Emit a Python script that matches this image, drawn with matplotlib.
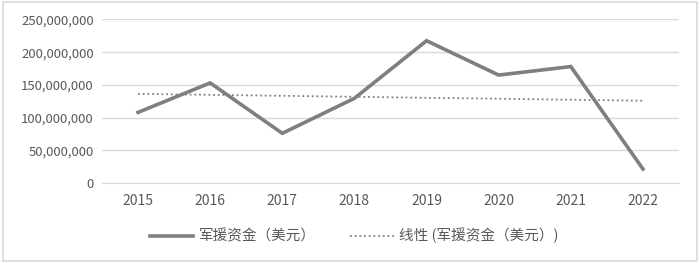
import matplotlib
matplotlib.use("Agg")
import matplotlib.pyplot as plt
import numpy as np
from matplotlib.patches import Rectangle

plt.rcParams['font.family'] = ['Noto Sans CJK SC', 'DejaVu Sans']

years = ['2015', '2016', '2017', '2018', '2019', '2020', '2021', '2022']
aid = [108e6, 153e6, 76e6, 129.5e6, 217.5e6, 165e6, 178e6, 21.5e6]
series_label = '军援资金（美元）'
trend_label = '线性 (军援资金（美元）)'
yticks = [0, 50e6, 100e6, 150e6, 200e6, 250e6]

fig = plt.figure(figsize=(7, 2.63), dpi=100)
ax = fig.add_axes([0.1457, 0.304, 0.8243, 0.622])

x = np.arange(len(years))
coef = np.polyfit(x, aid, 1)
trend = np.polyval(coef, x)

ax.plot(x, aid, color='#7f7f7f', lw=2.6, solid_joinstyle='miter', label=series_label, zorder=3)
ax.plot(x, trend, color='#7f7f7f', lw=1.3, ls=(0, (1, 1.6)), label=trend_label, zorder=2)

ax.set_xlim(-0.5, len(years) - 0.5)
ax.set_ylim(0, 250e6)
ax.set_yticks(yticks)
ax.set_yticklabels([f'{int(v):,}' for v in yticks])
ax.set_xticks(x)
ax.set_xticklabels(years)
ax.grid(axis='y', color='#d9d9d9', lw=1)
ax.set_axisbelow(True)
for s in ['top', 'right', 'left']:
    ax.spines[s].set_visible(False)
ax.spines['bottom'].set_color('#d9d9d9')
ax.tick_params(axis='both', length=0, colors='#595959', labelsize=9.5)
ax.tick_params(axis='x', pad=8, labelsize=10)
ax.tick_params(axis='y', pad=6)

fig.legend(loc='center', bbox_to_anchor=(0.506, 0.103), ncol=2, frameon=False,
           fontsize=10.5, labelcolor='#595959', handlelength=3.0, columnspacing=2.4,
           handletextpad=0.35)

fig.patches.append(Rectangle((0.004, 0.008), 0.992, 0.984, transform=fig.transFigure,
                             fill=False, edgecolor='#d9d9d9', lw=1.2))

fig.savefig('out.png', dpi=100)
